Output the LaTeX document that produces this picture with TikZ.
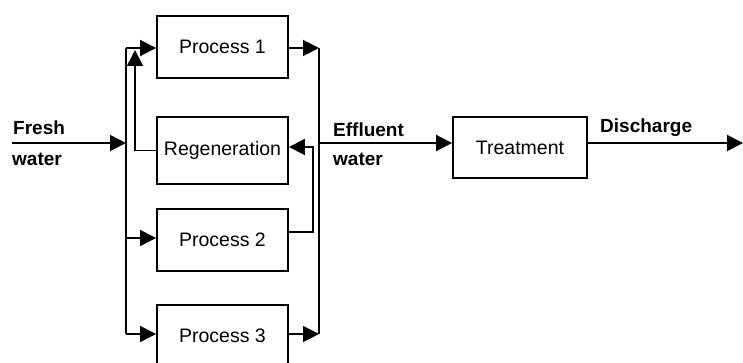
\documentclass[tikz,border=0pt]{standalone}
\usepackage{fontspec}
\setmainfont{Liberation Sans}
\usetikzlibrary{arrows.meta}
\begin{document}
\begin{tikzpicture}[x=1pt,y=-1pt,
  box/.style={draw, line width=1.9pt, minimum width=131pt, inner sep=0pt, font=\fontsize{19.5}{21}\selectfont},
  flow/.style={line width=1.9pt, -{Triangle[length=16pt,width=16pt]}},
  plain/.style={line width=1.9pt},
  lbl/.style={font=\fontsize{19}{21}\selectfont\bfseries, inner sep=0pt}]
\useasboundingbox (0,0) rectangle (743,363);
\node[box, minimum height=62pt] (p1) at (222.5,47) {Process 1};
\node[box, minimum height=67pt] (reg) at (222.5,150.5) {Regeneration};
\node[box, minimum height=62pt] (p2) at (222.5,240) {Process 2};
\node[box, minimum height=62pt] (p3) at (222.5,336) {Process 3};
\node[box, minimum width=134pt, minimum height=61pt] (tr) at (520,147.5) {Treatment};
% coordinates
\coordinate (fw) at (12,143);
\coordinate (lt) at (126,48);
\coordinate (lm) at (126,143);
\coordinate (l2) at (126,238);
\coordinate (lb) at (126,334);
\coordinate (rt) at (319,48);
\coordinate (rm) at (319,143);
\coordinate (rb) at (319,334);
\coordinate (ret) at (135,50);
\coordinate (p2o) at (288,232);
\coordinate (rc) at (313,147);
\coordinate (dis) at (743,143);
% left manifold
\draw[plain] (lt) -- (lb);
\draw[flow] (fw) -- (lm);
\draw[flow] (lt) -- (lt -| p1.west);
\draw[flow] (l2) -- (l2 -| p2.west);
\draw[flow] (lb) -- (lb -| p3.west);
% regeneration return
\draw[flow] (reg.west) -| (ret);
% right manifold
\draw[plain] (rt) -- (rb);
\draw[flow] (rt -| p1.east) -- (rt);
\draw[flow] (rb -| p3.east) -- (rb);
\draw[flow] (p2o) -| (rc) -- (rc -| reg.east);
\draw[flow] (rm) -- (rm -| tr.west);
\draw[flow] (rm -| tr.east) -- (dis);
% labels
\node[lbl, anchor=base west] (l1) at (13,135) {Fresh};
\node[lbl, anchor=base west] (l2t) at (12,166) {water};
\node[lbl, anchor=base west] (l3) at (333,137) {Effluent};
\node[lbl, anchor=base west] (l4) at (333,166) {water};
\node[lbl, anchor=base west] (l5) at (600,133) {Discharge};
\end{tikzpicture}
\end{document}
